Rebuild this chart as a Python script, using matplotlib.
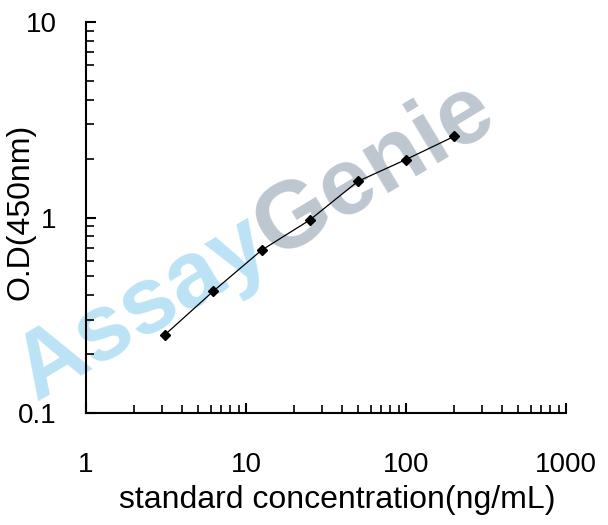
import matplotlib
matplotlib.use("Agg")
import matplotlib.pyplot as plt
import numpy as np
from matplotlib.ticker import LogLocator, NullFormatter, FixedLocator, FixedFormatter

# standard curve
conc = [3.125, 6.25, 12.5, 25, 50, 100, 200]
od = [0.252, 0.42, 0.68, 0.97, 1.53, 1.98, 2.6]

x_ticks = [1, 10, 100, 1000]
x_labels = ["1", "10", "100", "1000"]
y_ticks = [0.1, 1, 10]
y_labels = ["0.1", "1", "10"]

plt.rcParams["font.family"] = ["Liberation Sans", "DejaVu Sans"]

W, H = 608, 525
fig = plt.figure(figsize=(W / 100, H / 100), dpi=100)
ax = fig.add_axes([86 / W, 1 - 413 / H, (566 - 86) / W, (413 - 22) / H])

ax.plot(conc, od, color="black", lw=0.9, marker="D", ms=5, mfc="black", mec="black", zorder=3)

ax.set_xscale("log")
ax.set_yscale("log")
ax.set_xlim(1, 1000)
ax.set_ylim(0.1, 10)

ax.xaxis.set_major_locator(FixedLocator(x_ticks))
ax.xaxis.set_major_formatter(FixedFormatter(x_labels))
ax.yaxis.set_major_locator(FixedLocator(y_ticks))
ax.yaxis.set_major_formatter(FixedFormatter(y_labels))
ax.xaxis.set_minor_locator(LogLocator(base=10, subs=np.arange(2, 10)))
ax.yaxis.set_minor_locator(LogLocator(base=10, subs=np.arange(2, 10)))
ax.xaxis.set_minor_formatter(NullFormatter())
ax.yaxis.set_minor_formatter(NullFormatter())

for s in ["top", "right"]:
    ax.spines[s].set_visible(False)
for s in ["left", "bottom"]:
    ax.spines[s].set_linewidth(1.5)

ax.tick_params(which="major", direction="in", length=7.5, width=1.5, labelsize=20)
ax.tick_params(which="minor", direction="in", length=6, width=1.2)
ax.tick_params(axis="x", which="major", pad=28)
ax.tick_params(axis="y", which="major", pad=21)

ax.set_xlabel("standard concentration(ng/mL)", fontsize=23, va="center")
ax.set_ylabel("O.D(450nm)", fontsize=23, va="center")
ax.xaxis.set_label_coords(0.523, (413 - 500) / 391)
ax.yaxis.set_label_coords((21 - 86) / 480, (413 - 212) / 391)

# watermark
ang = 31
start = (36 / W, 1 - 402 / H)
t1 = fig.text(start[0], start[1], "Assay", fontsize=68, fontweight="bold",
              color="#bce3f5", ha="left", va="baseline", zorder=0)
fig.canvas.draw()
w = t1.get_window_extent().width
t1.set_rotation(ang)
t1.set_rotation_mode("anchor")
dx = w * np.cos(np.radians(ang)) / W
dy = w * np.sin(np.radians(ang)) / H
fig.text(start[0] + dx, start[1] + dy, "Genie", fontsize=68, fontweight="bold",
         color="#bec7cf", ha="left", va="baseline", rotation=ang,
         rotation_mode="anchor", zorder=0)
ax.set_zorder(2)
ax.patch.set_alpha(0)

fig.savefig("out.png", dpi=100)
